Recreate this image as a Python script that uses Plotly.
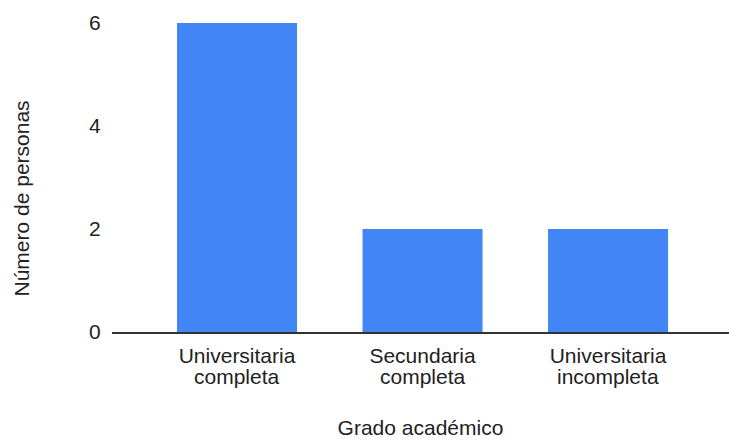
import plotly.graph_objects as go

categories = ["Universitaria completa", "Secundaria completa", "Universitaria incompleta"]
personas = [6, 2, 2]
y_ticks = [0, 2, 4, 6]

# Google-style tight two-line labels: first line as tick text, second line as annotation
first_line = [c.split(" ", 1)[0] for c in categories]
second_line = [c.split(" ", 1)[1] for c in categories]

FONT = 'Liberation Sans, Arial, sans-serif'
TEXT = '#222222'

fig = go.Figure(go.Bar(
    x=categories,
    y=personas,
    marker=dict(color='#4285f4', line=dict(width=0)),
    hoverinfo='skip',
))

for cat, txt in zip(categories, second_line):
    fig.add_annotation(
        x=cat, y=0, xref='x', yref='paper',
        text=txt, showarrow=False,
        yanchor='middle', yshift=-44,
        font=dict(family=FONT, size=21, color=TEXT),
    )

fig.add_annotation(
    x=0, y=0.5, xref='paper', yref='paper',
    text='Número de personas', showarrow=False, textangle=-90,
    xanchor='center', yanchor='middle', xshift=-91, yshift=-21,
    font=dict(family=FONT, size=21, color=TEXT),
)

fig.update_layout(
    width=729, height=440,
    margin=dict(t=23, r=0, b=108, l=112),
    paper_bgcolor='white',
    plot_bgcolor='white',
    font=dict(family=FONT, size=21, color=TEXT),
    bargap=0.353,
    showlegend=False,
    xaxis=dict(
        range=[-0.674, 2.652],
        tickvals=categories, ticktext=first_line,
        showline=True, linecolor='#333333', linewidth=1.5,
        showgrid=False, zeroline=False,
        ticks='outside', ticklen=4, tickcolor='rgba(0,0,0,0)',
        title=dict(text='Grado académico', standoff=54, font=dict(family=FONT, size=21, color=TEXT)),
        automargin=False,
        fixedrange=True,
    ),
    yaxis=dict(
        range=[0, 6],
        tickvals=y_ticks,
        showgrid=False, zeroline=False, showline=False,
        ticks='outside', ticklen=6, tickcolor='rgba(0,0,0,0)',
        automargin=False,
        fixedrange=True,
    ),
)

fig.write_html("out.html", config={'displayModeBar': False},
               post_script="document.body.style.margin='0';")
